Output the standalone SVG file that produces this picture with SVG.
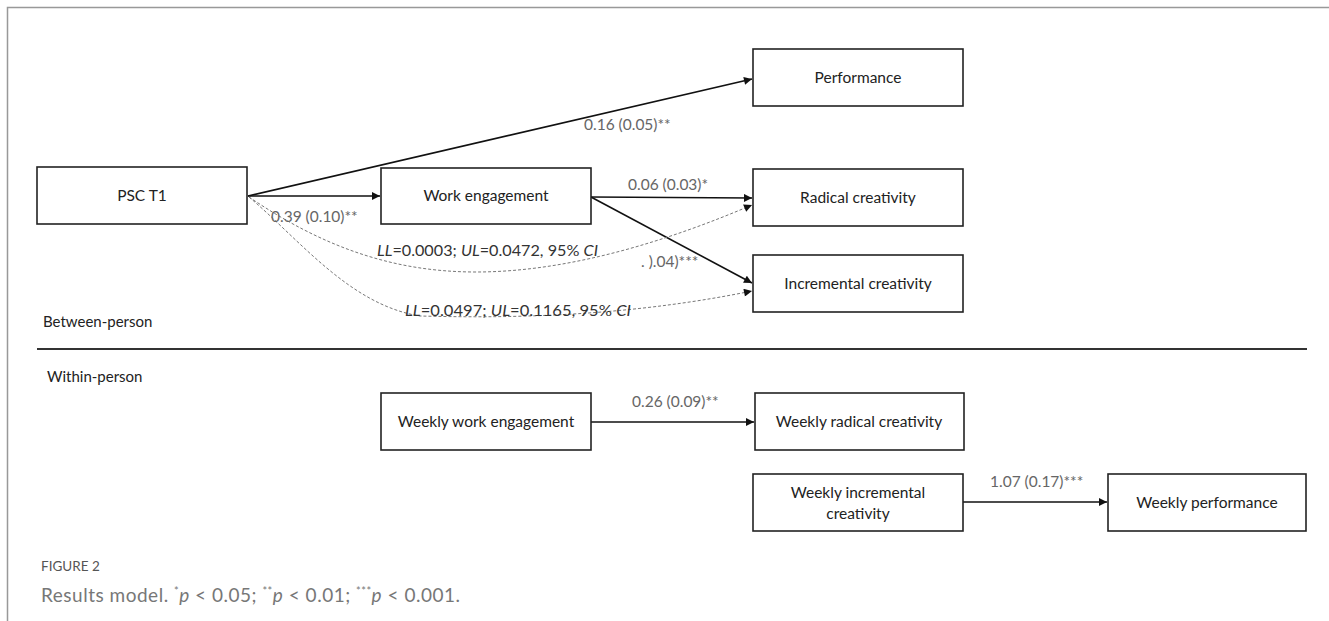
<svg xmlns="http://www.w3.org/2000/svg" width="1329" height="621" viewBox="0 0 1329 621">
<defs>
<marker id="ah" viewBox="0 0 10 10" refX="10" refY="5" markerWidth="10" markerHeight="8" markerUnits="userSpaceOnUse" orient="auto">
<path d="M0,0 L10,5 L0,10 z" fill="#111"/>
</marker>
<style>
.box{fill:#fff;stroke:#222;stroke-width:1.6}
.t{font-family:Lato,"Open Sans","Liberation Sans",sans-serif;font-size:15.5px;fill:#222;text-anchor:middle}
.lab{font-family:Lato,"Open Sans","Liberation Sans",sans-serif;font-size:15.5px;fill:#666}
.ci{font-family:Lato,"Open Sans","Liberation Sans",sans-serif;font-size:16px;fill:#333}
.sec{font-family:Lato,"Open Sans","Liberation Sans",sans-serif;font-size:15px;fill:#222}
.solid{fill:none;stroke:#111;stroke-width:1.6}
.dash{fill:none;stroke:#777;stroke-width:1;stroke-dasharray:3 2}
.cap{font-family:Lato,"Open Sans","Liberation Sans",sans-serif}
</style>
</defs>
<rect width="1329" height="621" fill="#fff"/>
<path d="M1329,7.5 H7.5 V621" fill="none" stroke="#999" stroke-width="1.5"/>
<line x1="37" y1="349" x2="1307" y2="349" stroke="#333" stroke-width="2"/>
<text class="sec" x="43" y="327">Between-person</text>
<text class="sec" x="47" y="382">Within-person</text>

<g id="connectors">
<path class="solid" d="M248,196 L752,79" marker-end="url(#ah)"/>
<path class="solid" d="M248,196 L380,196" marker-end="url(#ah)"/>
<path class="solid" d="M591,197 L752,198" marker-end="url(#ah)"/>
<path class="solid" d="M591,197 L752,283" marker-end="url(#ah)"/>
<path class="dash" d="M249,197 C320,245 390,272 476,272 C570,272 670,240 752,205" marker-end="url(#ah)"/>
<path class="dash" d="M249,197 C300,240 350,305 420,316 C500,318 620,318 752,291" marker-end="url(#ah)"/>
<path class="solid" d="M591,422 L754,422" marker-end="url(#ah)"/>
<path class="solid" d="M963,502 L1107,502" marker-end="url(#ah)"/>
<text class="lab" x="271" y="222">0.39 (0.10)**</text>
<text class="lab" x="584" y="130">0.16 (0.05)**</text>
<text class="lab" x="628" y="190">0.06 (0.03)*</text>
<text class="lab" x="641" y="267">. ).04)***</text>
<text class="ci" x="377" y="256" textLength="221" lengthAdjust="spacingAndGlyphs"><tspan font-style="italic">LL</tspan>=0.0003; <tspan font-style="italic">UL</tspan>=0.0472, 95% <tspan font-style="italic">CI</tspan></text>
<text class="ci" x="405" y="316" textLength="226" lengthAdjust="spacingAndGlyphs"><tspan font-style="italic">LL</tspan>=0.0497; <tspan font-style="italic">UL</tspan>=0.1165, 95% <tspan font-style="italic">CI</tspan></text>
<text class="lab" x="632" y="407">0.26 (0.09)**</text>
<text class="lab" x="990" y="487">1.07 (0.17)***</text>
</g>

<g id="psc"><rect class="box" x="37" y="167" width="210" height="57"/><text class="t" x="142" y="201">PSC T1</text></g>
<g id="work"><rect class="box" x="381" y="168" width="210" height="56"/><text class="t" x="486" y="201">Work engagement</text></g>
<g id="perf"><rect class="box" x="753" y="49" width="210" height="57"/><text class="t" x="858" y="83">Performance</text></g>
<g id="radical"><rect class="box" x="753" y="169" width="210" height="57"/><text class="t" x="858" y="203">Radical creativity</text></g>
<g id="incr"><rect class="box" x="753" y="255" width="210" height="57"/><text class="t" x="858" y="289">Incremental creativity</text></g>
<g id="wwork"><rect class="box" x="381" y="393" width="210" height="57"/><text class="t" x="486" y="427">Weekly work engagement</text></g>
<g id="wradical"><rect class="box" x="755" y="393" width="209" height="57"/><text class="t" x="859" y="427">Weekly radical creativity</text></g>
<g id="wincr"><rect class="box" x="753" y="474" width="210" height="57"/><text class="t" x="858" y="498">Weekly incremental</text><text class="t" x="858" y="519">creativity</text></g>
<g id="wperf"><rect class="box" x="1108" y="474" width="198" height="57"/><text class="t" x="1207" y="508">Weekly performance</text></g>

<text class="cap" x="41" y="571" font-size="13.5" fill="#555">FIGURE 2</text>
<text class="cap" x="41" y="602" font-size="19" fill="#777" textLength="419" lengthAdjust="spacing">Results model. <tspan font-size="11" dy="-7">*</tspan><tspan font-style="italic" dy="7">p</tspan> &lt; 0.05; <tspan font-size="11" dy="-7">**</tspan><tspan font-style="italic" dy="7">p</tspan> &lt; 0.01; <tspan font-size="11" dy="-7">***</tspan><tspan font-style="italic" dy="7">p</tspan> &lt; 0.001.</text>
</svg>
